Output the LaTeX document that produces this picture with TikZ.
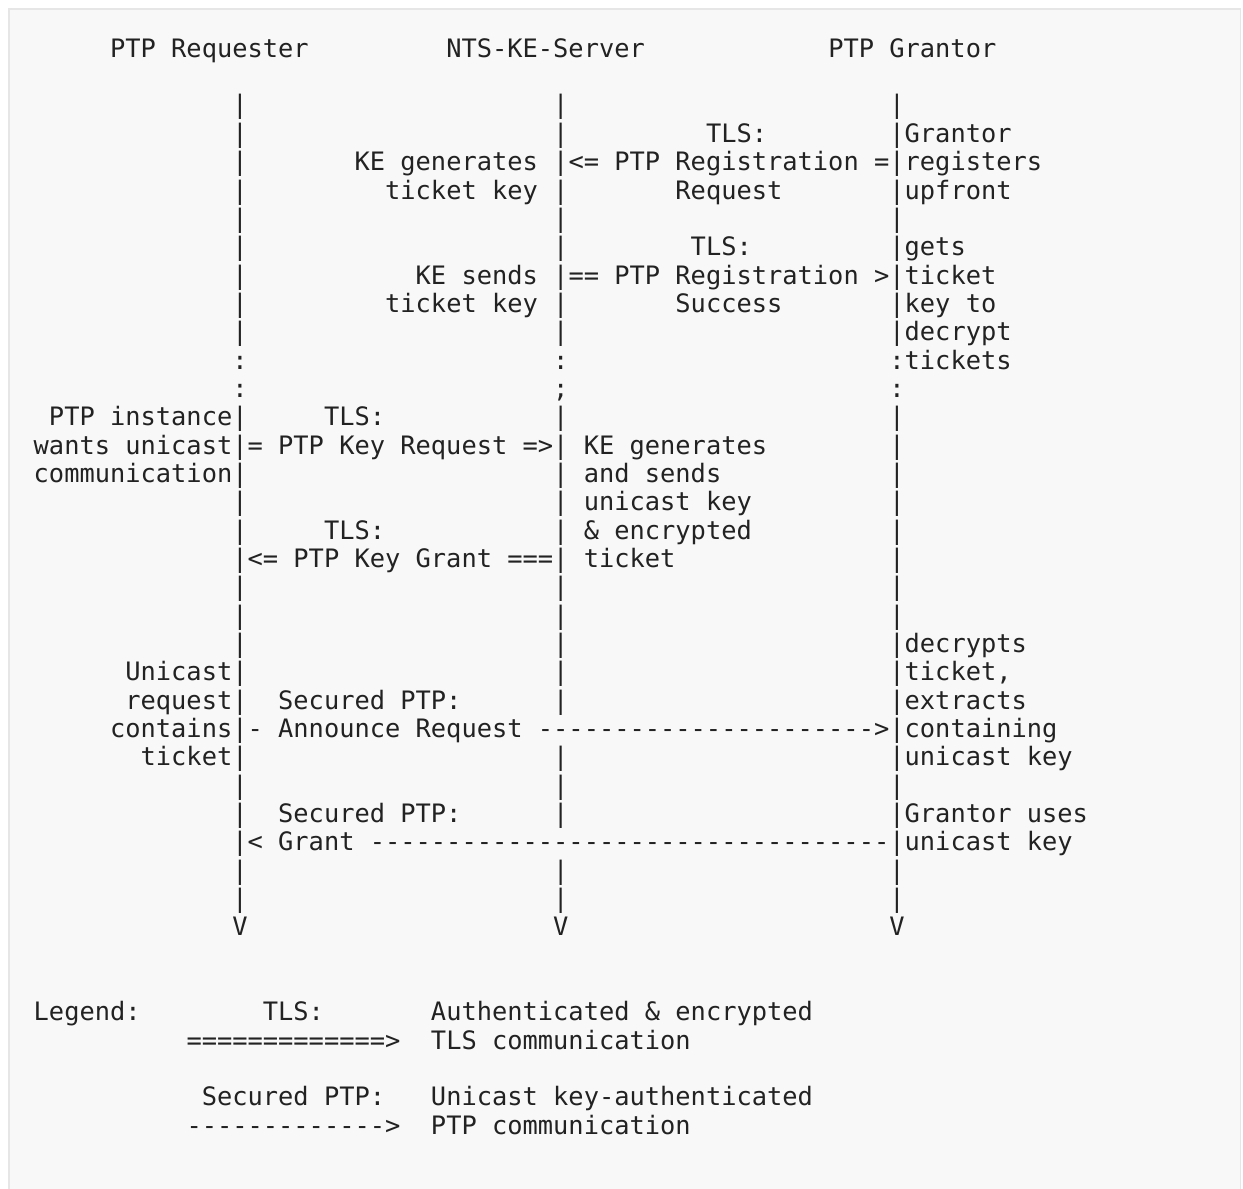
\documentclass[tikz,border=0pt]{standalone}
\usepackage{fontspec}
\setmonofont{DejaVu Sans Mono}
\definecolor{bgc}{HTML}{F8F8F8}
\definecolor{frc}{HTML}{E6E6E6}
\definecolor{txc}{HTML}{222222}
\tikzset{txt/.style={anchor=base west, inner sep=0pt, outer sep=0pt, text=txc,
  font=\ttfamily\fontsize{25.38}{28.35}\selectfont}}
\newcommand\cw{15.28}
\newcommand\xo{33.7}
\newcommand\yb{57.3}
\newcommand\lh{28.34}
\newcommand\T[3]{\node[txt] (t#1c#2) at ({\xo+#2*\cw},{\yb+#1*\lh}) {#3};}
\begin{document}
\begin{tikzpicture}[x=1pt,y=-1pt]
\useasboundingbox (0,0) rectangle (1243,1189);
\clip (0,0) rectangle (1243,1189);
\fill[white] (0,0) rectangle (1243,1189);
\fill[bgc] (8,8) rectangle (1241,1200);
\draw[frc, line width=1.5pt] (8.75,1200) -- (8.75,8.75) -- (1240.25,8.75) -- (1240.25,1200);
% header
\T{0}{5}{PTP Requester}
\T{0}{27}{NTS-KE-Server}
\T{0}{52}{PTP Grantor}
% life lines
\foreach \rw in {2,...,10,13,14,...,30} {\T{\rw}{13}{|}}
\foreach \rw in {2,...,10,13,14,...,23,25,26,27,29,30} {\T{\rw}{34}{|}}
\foreach \rw in {2,...,10,13,14,...,30} {\T{\rw}{56}{|}}
\foreach \cl in {13,34,56} {\T{11}{\cl}{:}}
\T{12}{13}{:}
\T{12}{34}{;}
\T{12}{56}{:}
\foreach \cl in {13,34,56} {\T{31}{\cl}{V}}
% registration
\T{3}{44}{TLS:}
\T{3}{57}{Grantor}
\T{4}{21}{KE generates}
\T{4}{35}{<= PTP Registration =}
\T{4}{57}{registers}
\T{5}{23}{ticket key}
\T{5}{42}{Request}
\T{5}{57}{upfront}
\T{7}{43}{TLS:}
\T{7}{57}{gets}
\T{8}{25}{KE sends}
\T{8}{35}{== PTP Registration >}
\T{8}{57}{ticket}
\T{9}{23}{ticket key}
\T{9}{42}{Success}
\T{9}{57}{key to}
\T{10}{57}{decrypt}
\T{11}{57}{tickets}
% key request
\T{13}{1}{PTP instance}
\T{13}{19}{TLS:}
\T{14}{0}{wants unicast}
\T{14}{14}{= PTP Key Request =>}
\T{14}{36}{KE generates}
\T{15}{0}{communication}
\T{15}{36}{and sends}
\T{16}{36}{unicast key}
\T{17}{19}{TLS:}
\T{17}{36}{\& encrypted}
\T{18}{14}{<= PTP Key Grant ===}
\T{18}{36}{ticket}
% secured PTP
\T{21}{57}{decrypts}
\T{22}{6}{Unicast}
\T{22}{57}{ticket,}
\T{23}{6}{request}
\T{23}{16}{Secured PTP:}
\T{23}{57}{extracts}
\T{24}{5}{contains}
\T{24}{14}{- Announce Request ---------------------->}
\T{24}{57}{containing}
\T{25}{7}{ticket}
\T{25}{57}{unicast key}
\T{27}{16}{Secured PTP:}
\T{27}{57}{Grantor uses}
\T{28}{14}{< Grant ----------------------------------}
\T{28}{57}{unicast key}
% legend
\T{34}{0}{Legend:}
\T{34}{15}{TLS:}
\T{34}{26}{Authenticated \& encrypted}
\T{35}{10}{=============>}
\T{35}{26}{TLS communication}
\T{37}{11}{Secured PTP:}
\T{37}{26}{Unicast key-authenticated}
\T{38}{10}{------------->}
\T{38}{26}{PTP communication}
\end{tikzpicture}
\end{document}
